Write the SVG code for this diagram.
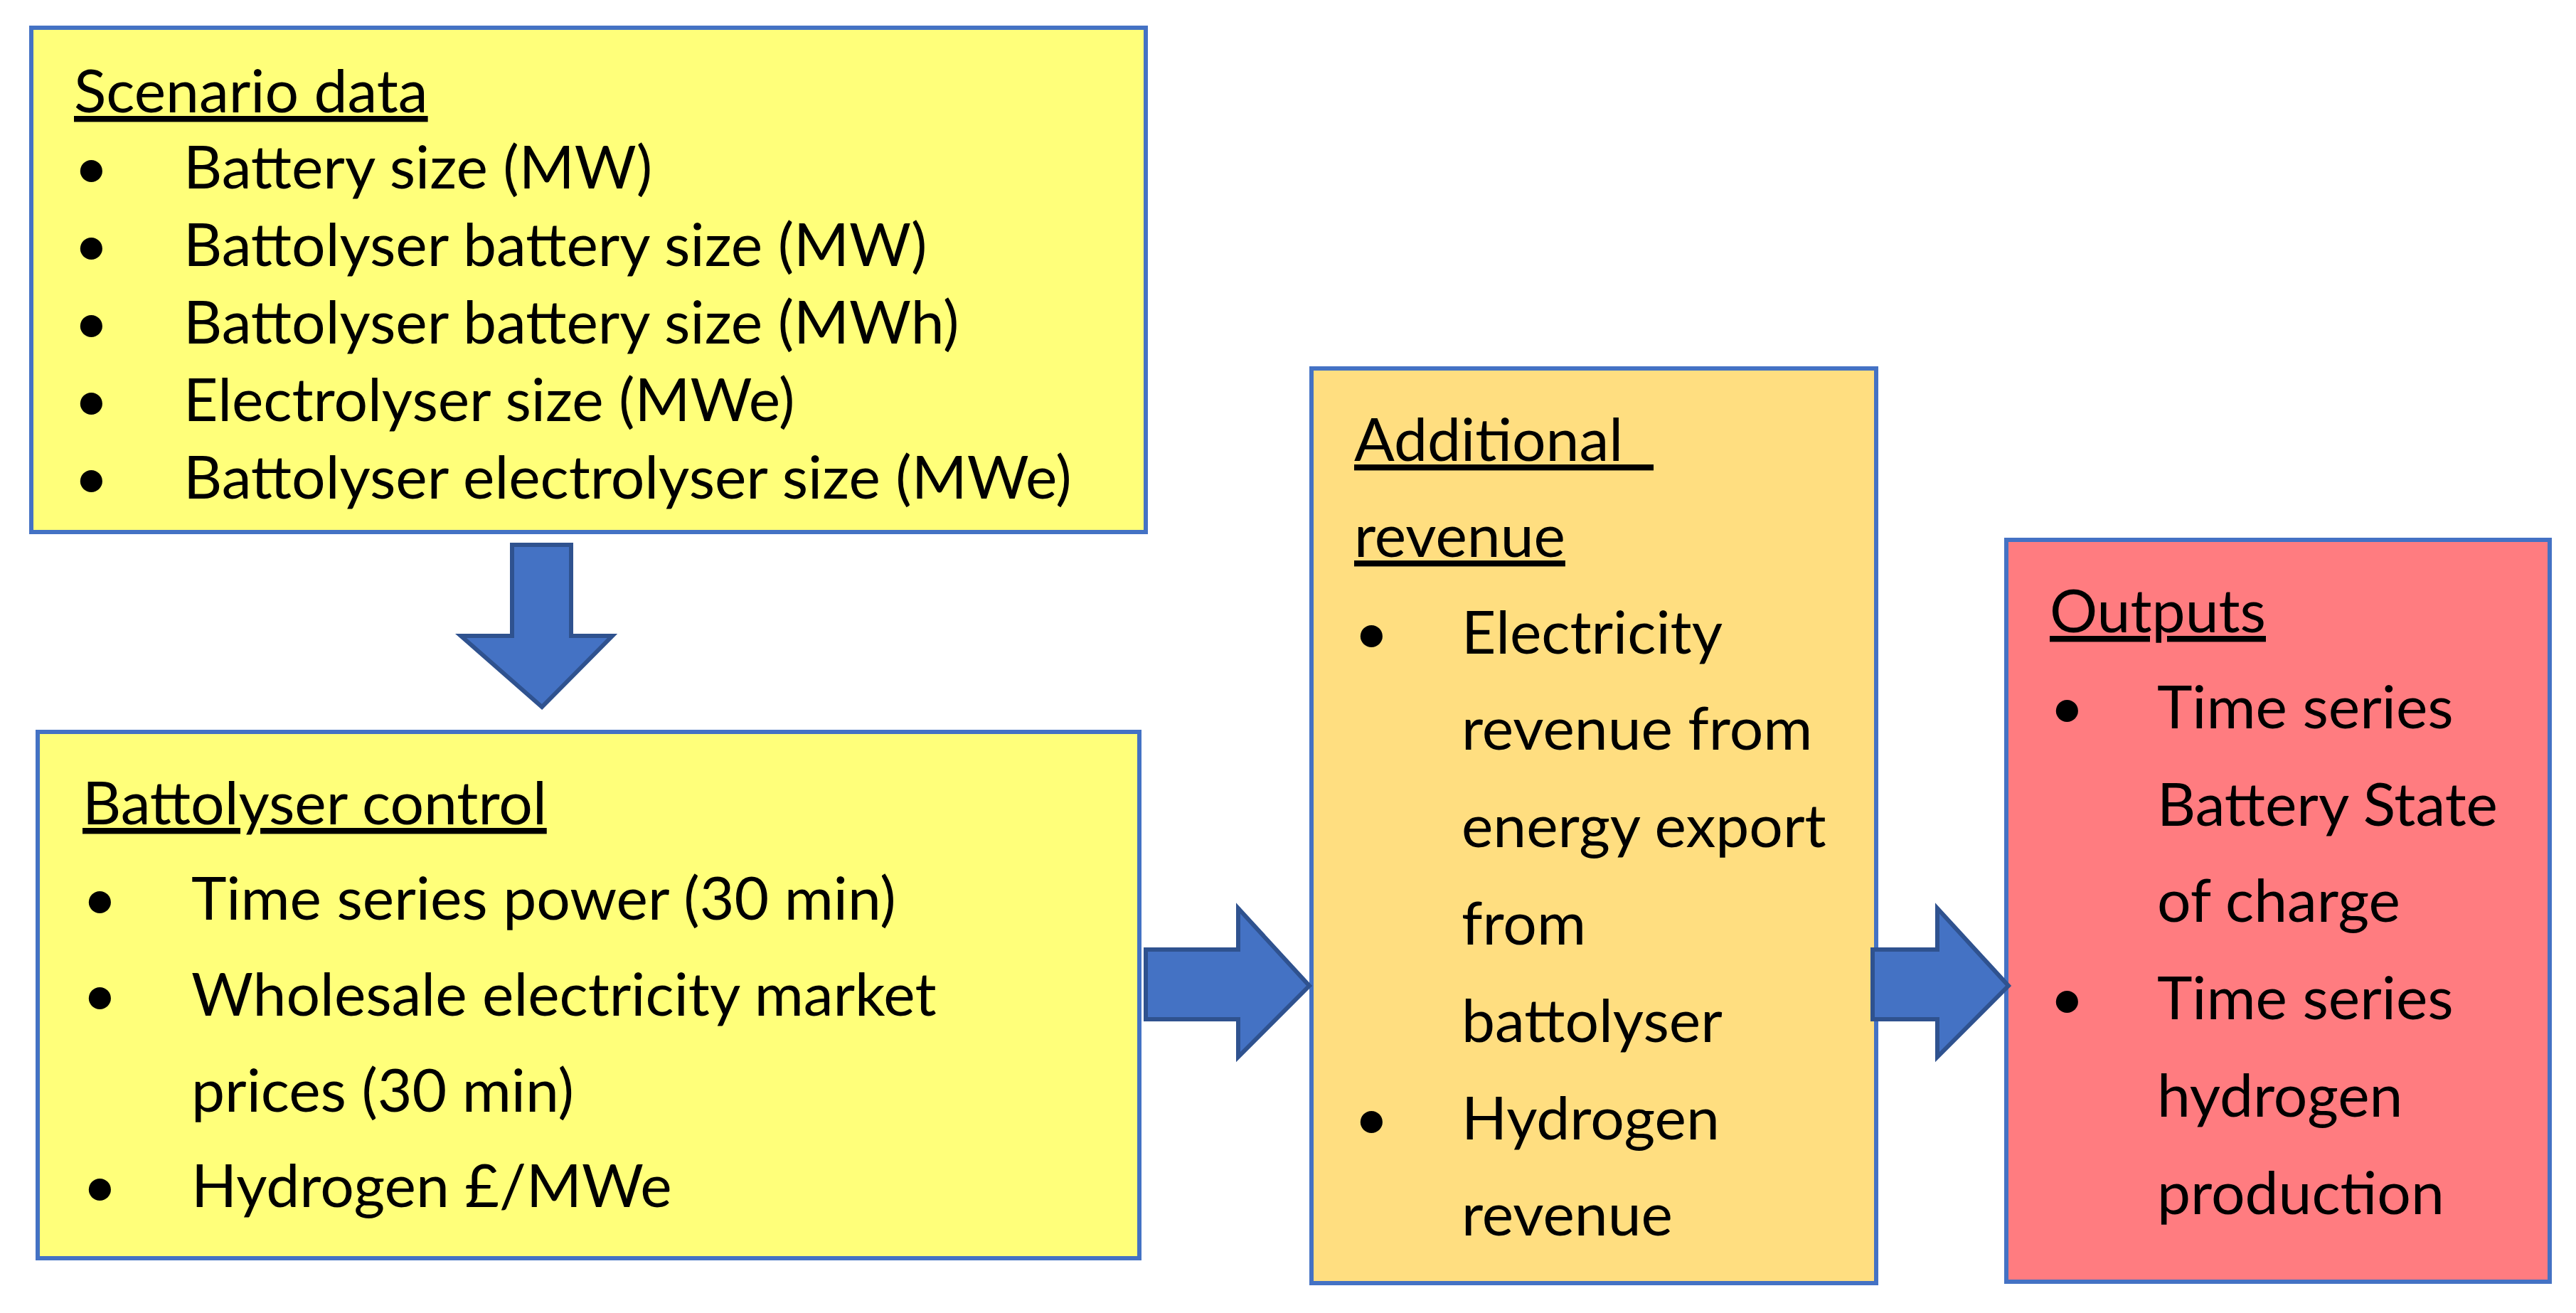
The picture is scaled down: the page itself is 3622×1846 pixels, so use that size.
<svg xmlns="http://www.w3.org/2000/svg" width="3622" height="1846" viewBox="0 0 3622 1846">
<style>
.box{stroke:#4472C4;stroke-width:6}
.arr{fill:#4472C4;stroke:#2F528F;stroke-width:6;stroke-linejoin:miter}
text{font-family:Lato,"Open Sans",sans-serif;font-size:84px;fill:#000}
.u{text-decoration:underline}
</style>
<rect width="3622" height="1846" fill="#fff"/>
<g id="scenario">
<rect class="box" x="44" y="39" width="1567" height="709" fill="#FFFF7A"/>
<text x="104" y="158" class="u">Scenario data</text>
<text x="104" y="265">•</text><text x="258" y="265">Battery size (MW)</text>
<text x="104" y="374">•</text><text x="258" y="374">Battolyser battery size (MW)</text>
<text x="104" y="483">•</text><text x="258" y="483">Battolyser battery size (MWh)</text>
<text x="104" y="592">•</text><text x="258" y="592">Electrolyser size (MWe)</text>
<text x="104" y="701">•</text><text x="258" y="701">Battolyser electrolyser size (MWe)</text>
</g>
<g id="control">
<rect class="box" x="53" y="1029" width="1549" height="740" fill="#FFFF7A"/>
<text x="116" y="1159" class="u">Battolyser control</text>
<text x="116" y="1293">•</text><text x="269" y="1293">Time series power (30 min)</text>
<text x="116" y="1428">•</text><text x="269" y="1428">Wholesale electricity market</text>
<text x="269" y="1563">prices (30 min)</text>
<text x="116" y="1697">•</text><text x="269" y="1697">Hydrogen £/MWe</text>
</g>
<g id="revenue">
<rect class="box" x="1844" y="518" width="794" height="1286" fill="#FFDE80"/>
<text x="1904" y="648" class="u" xml:space="preserve">Additional  </text>
<text x="1904" y="783" class="u">revenue</text>
<text x="1904" y="919">•</text><text x="2055" y="919">Electricity</text>
<text x="2055" y="1054">revenue from</text>
<text x="2055" y="1191">energy export</text>
<text x="2055" y="1328">from</text>
<text x="2055" y="1465">battolyser</text>
<text x="1904" y="1602">•</text><text x="2055" y="1602">Hydrogen</text>
<text x="2055" y="1737">revenue</text>
</g>
<g id="outputs">
<rect class="box" x="2821" y="759" width="764" height="1043" fill="#FF7C80"/>
<text x="2882" y="889" class="u">Outputs</text>
<text x="2882" y="1024">•</text><text x="3033" y="1024">Time series</text>
<text x="3033" y="1161">Battery State</text>
<text x="3033" y="1296">of charge</text>
<text x="2882" y="1433">•</text><text x="3033" y="1433">Time series</text>
<text x="3033" y="1570">hydrogen</text>
<text x="3033" y="1707">production</text>
</g>
<g id="connectors">
<polygon class="arr" points="720,766 803,766 803,894 861,894 762,994 648,894 720,894"/>
<polygon class="arr" points="1611,1335 1741,1335 1741,1277 1841,1386 1741,1486 1741,1433 1611,1433"/>
<polygon class="arr" points="2633,1335 2724,1335 2724,1277 2824,1386 2724,1486 2724,1433 2633,1433"/>
</g>
</svg>
